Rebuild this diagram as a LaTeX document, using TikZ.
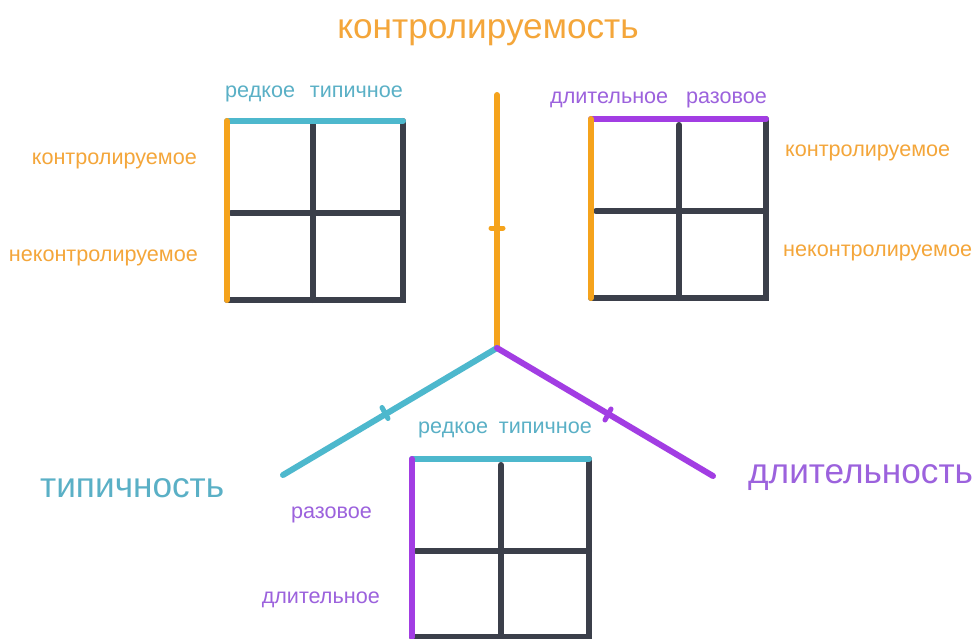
\documentclass[tikz,border=0pt]{standalone}
\usepackage{fontspec}
\setmainfont{Liberation Sans}
\definecolor{ora}{HTML}{F5A31C}
\definecolor{orat}{HTML}{F4A63A}
\definecolor{cya}{HTML}{4DB8CD}
\definecolor{cyat}{HTML}{5AB0C6}
\definecolor{pur}{HTML}{A23DE3}
\definecolor{purt}{HTML}{9C62DD}
\definecolor{drk}{HTML}{3B3F4A}
\begin{document}
\begin{tikzpicture}[x=1pt,y=-1pt,
  axisline/.style={line width=6pt,line cap=round},
  gridline/.style={line width=6pt,line cap=round,drk},
  tickbar/.style={line width=5pt,line cap=round},
  small/.style={inner sep=0pt,font=\fontsize{21.6}{26}\selectfont},
  big/.style={inner sep=0pt,font=\fontsize{35.2}{41}\selectfont}]
\useasboundingbox[fill=white] (0,0) rectangle (979,639);
\begin{scope}
\clip (0,0) rectangle (979,639);
% left grid
\coordinate (L1) at (227,121); \coordinate (L2) at (403,121);
\coordinate (L3) at (403,300); \coordinate (L4) at (227,300);
\coordinate (Lmt) at (313,124); \coordinate (Lmb) at (313,300);
\coordinate (Lml) at (231,213); \coordinate (Lmr) at (403,213);
\draw[gridline] (L2) -- (L3) -- (L4);
\draw[gridline] (Lmt) -- (Lmb);
\draw[gridline] (Lml) -- (Lmr);
\draw[axisline,cya] (L1) -- (L2);
\draw[axisline,ora] (L1) -- (L4);
% right grid
\coordinate (R1) at (591,119); \coordinate (R2) at (766,119);
\coordinate (R3) at (766,298); \coordinate (R4) at (591,298);
\coordinate (Rmt) at (679,125); \coordinate (Rmb) at (679,298);
\coordinate (Rml) at (596,211); \coordinate (Rmr) at (766,211);
\draw[gridline] (R2) -- (R3) -- (R4);
\draw[gridline] (Rmt) -- (Rmb);
\draw[gridline] (Rml) -- (Rmr);
\draw[axisline,pur] (R1) -- (R2);
\draw[axisline,ora] (R1) -- (R4);
% bottom grid
\coordinate (B1) at (412,459); \coordinate (B2) at (589,459);
\coordinate (B3) at (589,637); \coordinate (B4) at (412,637);
\coordinate (Bmt) at (501,465); \coordinate (Bmb) at (501,637);
\coordinate (Bml) at (416,551); \coordinate (Bmr) at (589,551);
\draw[gridline] (B2) -- (B3) -- (B4);
\draw[gridline] (Bmt) -- (Bmb);
\draw[gridline] (Bml) -- (Bmr);
\draw[axisline,cya] (B1) -- (B2);
\draw[axisline,pur] (B1) -- (B4);
\end{scope}
% central axes
\coordinate (C) at (497,348);
\coordinate (Ctop) at (497,95);
\coordinate (Ccy) at (283,475);
\coordinate (Cpu) at (713,476);
\draw[axisline,ora] (C) -- (Ctop);
\draw[axisline,cya] (C) -- (Ccy);
\draw[axisline,pur] (C) -- (Cpu);
\coordinate (To1) at (491,228); \coordinate (To2) at (503,228);
\draw[tickbar,ora] (To1) -- (To2);
\coordinate (Tc1) at (382,407.5); \coordinate (Tc2) at (388,418.5);
\draw[tickbar,cya] (Tc1) -- (Tc2);
\coordinate (Tp1) at (611,409); \coordinate (Tp2) at (605,420);
\draw[tickbar,pur] (Tp1) -- (Tp2);
% big labels
\node[big,orat,anchor=base] (tctrl) at (488,39) {контролируемость};
\node[big,cyat,anchor=base west] (ttyp) at (40,497) {типичность};
\node[big,purt,anchor=base west] (tdur) at (748,483) {длительность};
% left grid labels
\node[small,cyat,anchor=base west] (l1) at (225,98) {редкое};
\node[small,cyat,anchor=base east] (l2) at (403,98) {типичное};
\node[small,orat,anchor=base east] (l3) at (197,165) {контролируемое};
\node[small,orat,anchor=base east] (l4) at (198,261) {неконтролируемое};
% right grid labels
\node[small,purt,anchor=base west] (r1) at (550,104) {длительное};
\node[small,purt,anchor=base east] (r2) at (767,104) {разовое};
\node[small,orat,anchor=base west] (r3) at (785,157) {контролируемое};
\node[small,orat,anchor=base west] (r4) at (783,256) {неконтролируемое};
% bottom grid labels
\node[small,cyat,anchor=base west] (b1) at (418,433) {редкое};
\node[small,cyat,anchor=base east] (b2) at (592,433) {типичное};
\node[small,purt,anchor=base east] (b3) at (372,518) {разовое};
\node[small,purt,anchor=base east] (b4) at (380,603) {длительное};
\end{tikzpicture}
\end{document}
